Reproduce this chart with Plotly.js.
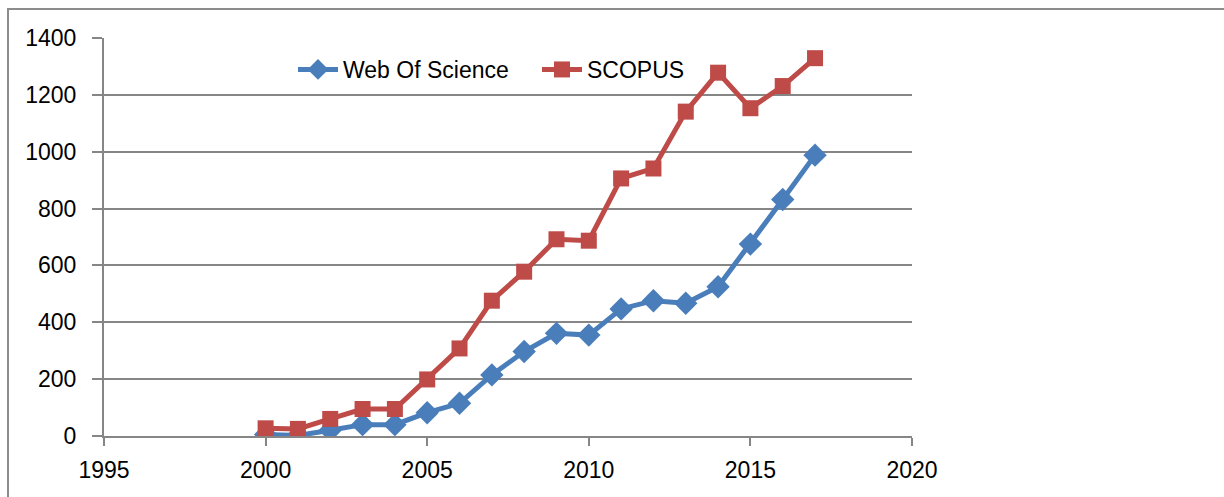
<!DOCTYPE html>
<html>
<head>
<meta charset="utf-8">
<script src="https://cdn.plot.ly/plotly-3.0.1.min.js"></script>
<style>html,body{margin:0;padding:0;background:#fff;}#chart{width:1224px;height:497px;}</style>
</head>
<body>
<div id="chart"></div>
<script>
const years = [2000,2001,2002,2003,2004,2005,2006,2007,2008,2009,2010,2011,2012,2013,2014,2015,2016,2017];
const webOfScience = [5,2,20,40,40,82,115,215,297,361,355,447,476,467,525,675,832,988];
const scopus = [27,25,60,95,95,199,308,476,578,692,687,906,941,1141,1278,1153,1231,1329];
const xTicks = [1995,2000,2005,2010,2015,2020];
const yTicks = [0,200,400,600,800,1000,1200,1400];

const font = {family: '"Liberation Sans", Arial, sans-serif', size: 23, color: '#000'};
const L = 104, R = 312, T = 38, B = 61, W = 1224, H = 497;
const pw = W - L - R, ph = H - T - B;

const traces = [
  {x: years, y: webOfScience, name: 'Web Of Science', type: 'scatter', mode: 'lines+markers', legend: 'legend',
   line: {color: '#4A7EBB', width: 5}, marker: {symbol: 'diamond', size: 18, color: '#4A7EBB'}},
  {x: years, y: scopus, name: 'SCOPUS', type: 'scatter', mode: 'lines+markers', legend: 'legend2',
   line: {color: '#BE4B48', width: 5}, marker: {symbol: 'square', size: 16, color: '#BE4B48'}}
];

const legendBase = {orientation: 'h', xanchor: 'left', yanchor: 'top', y: (436 - 48) / ph,
                    font: font, bgcolor: 'rgba(0,0,0,0)', itemwidth: 40, tracegroupgap: 0};

const layout = {
  width: W, height: H,
  margin: {l: L, r: R, t: T, b: B, pad: 0},
  paper_bgcolor: '#fff', plot_bgcolor: '#fff',
  font: font,
  showlegend: true,
  legend: Object.assign({}, legendBase, {x: (293 - L) / pw}),
  legend2: Object.assign({}, legendBase, {x: (537 - L) / pw}),
  xaxis: {range: [1995, 2020], tickvals: xTicks, ticktext: xTicks.map(String),
          showgrid: false, zeroline: false, showline: true, linecolor: '#868686', linewidth: 2,
          ticks: 'outside', ticklen: 8, tickwidth: 2, tickcolor: '#868686', tickfont: font,
          ticklabelstandoff: 4, fixedrange: true},
  yaxis: {range: [0, 1400], tickvals: yTicks, ticktext: yTicks.map(String),
          showgrid: true, gridcolor: '#868686', gridwidth: 2, zeroline: false,
          showline: true, linecolor: '#868686', linewidth: 2,
          ticks: 'outside', ticklen: 10, tickwidth: 2, tickcolor: '#868686', tickfont: font,
          ticklabelstandoff: 11, fixedrange: true},
  shapes: [
    {type: 'rect', xref: 'paper', yref: 'paper', layer: 'below',
     x0: (8 - L) / pw, x1: (1300 - L) / pw, y0: (436 - 560) / ph, y1: (436 - 9) / ph,
     line: {color: '#8C8C8C', width: 2}, fillcolor: 'rgba(0,0,0,0)'}
  ]
};

Plotly.newPlot('chart', traces, layout, {displayModeBar: false, staticPlot: true});
</script>
</body>
</html>
